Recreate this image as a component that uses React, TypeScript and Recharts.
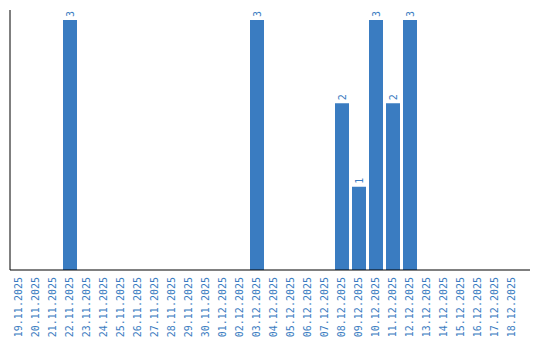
import React from "react";
import { BarChart, Bar, XAxis, YAxis, LabelList } from "recharts";

const dates = [
  "19.11.2025", "20.11.2025", "21.11.2025", "22.11.2025", "23.11.2025",
  "24.11.2025", "25.11.2025", "26.11.2025", "27.11.2025", "28.11.2025",
  "29.11.2025", "30.11.2025", "01.12.2025", "02.12.2025", "03.12.2025",
  "04.12.2025", "05.12.2025", "06.12.2025", "07.12.2025", "08.12.2025",
  "09.12.2025", "10.12.2025", "11.12.2025", "12.12.2025", "13.12.2025",
  "14.12.2025", "15.12.2025", "16.12.2025", "17.12.2025", "18.12.2025",
];
const counts = [
  0, 0, 0, 3, 0,
  0, 0, 0, 0, 0,
  0, 0, 0, 0, 3,
  0, 0, 0, 0, 2,
  1, 3, 2, 3, 0,
  0, 0, 0, 0, 0,
];

const data = dates.map((d, i) => ({ date: d, count: counts[i] }));

const BLUE = "#3a7cc1";
const FONT = "'DejaVu Sans Mono', monospace";

const DateTick = (props: any) => {
  const { x, y, payload } = props;
  return (
    <g transform={`translate(${x},${y - 1})`}>
      <text
        transform="rotate(-90)"
        textAnchor="end"
        dy="0.35em"
        fill={BLUE}
        fontSize={10}
        fontFamily={FONT}
      >
        {payload.value}
      </text>
    </g>
  );
};

const ValueLabel = (props: any) => {
  const { x, y, width, value } = props;
  if (!value) return null;
  return (
    <text
      transform={`translate(${x + width / 2},${y - 3}) rotate(-90)`}
      textAnchor="start"
      dy="0.35em"
      fill={BLUE}
      fontSize={10}
      fontFamily={FONT}
    >
      {value}
    </text>
  );
};

export default function App() {
  return (
    <div style={{ position: "absolute", left: 0, top: 0 }}>
      <BarChart
        width={540}
        height={340}
        data={data}
        margin={{ top: 10, right: 10, left: 0, bottom: 0 }}
        barSize={14}
      >
        <XAxis
          dataKey="date"
          interval={0}
          height={70}
          tickLine={false}
          axisLine={{ stroke: "#000" }}
          tick={<DateTick />}
          padding={{ left: 0, right: 10 }}
        />
        <YAxis
          width={10}
          domain={[0, 3.12]}
          allowDataOverflow
          tick={false}
          tickLine={false}
          axisLine={{ stroke: "#000" }}
        />
        <Bar dataKey="count" fill={BLUE} isAnimationActive={false}>
          <LabelList dataKey="count" content={<ValueLabel />} />
        </Bar>
      </BarChart>
    </div>
  );
}
